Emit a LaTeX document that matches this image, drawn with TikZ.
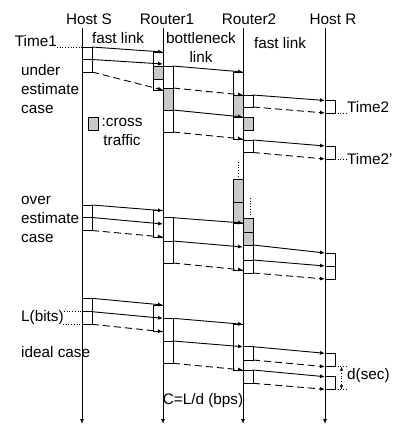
\documentclass[tikz,border=0pt]{standalone}
\usepackage{fontspec}
\setmainfont{Liberation Sans}
\usetikzlibrary{arrows.meta, positioning}
\newcommand{\pktR}[5][pkt]{\node[#1, anchor=north west, minimum height=#5pt-#4pt] (#2) at (#3,#4) {};}
\newcommand{\pktL}[5][pkt]{\node[#1, anchor=north east, minimum height=#5pt-#4pt] (#2) at (#3,#4) {};}

\begin{document}
\begin{tikzpicture}[x=1pt, y=-1pt,
    lbl/.style={font=\fontsize{15.3}{19}\selectfont, inner sep=0pt},
    life/.style={line width=0.9pt, -{Latex[length=5pt,width=4pt]}},
    pkt/.style={draw, line width=0.9pt, fill=white, inner sep=0pt, outer sep=0pt, minimum width=10pt},
    xtra/.style={pkt, fill=gray!42},
    sol/.style={line width=0.9pt, -{Latex[length=5pt,width=4pt]}},
    dsh/.style={sol, dash pattern=on 7pt off 4pt},
    dot/.style={line width=0.7pt, dotted}]
    \useasboundingbox (0,0) rectangle (392,425);

    % lifelines
    \foreach \n/\x/\t/\dx in {hs/82/Host S/7, ra/163/Router1/4, rb/243/Router2/6, hr/325/Host R/8} {
        \node[lbl] (\n) at (\x+\dx,19) {\t};
        \coordinate (\n T) at (\x,28);
        \coordinate (\n B) at (\x,424);
        \draw[life] (\n T) -- (\n B);
    }
    \node[lbl] (fl1) at (118,38) {fast link};
    \node[lbl, align=center] (bl) at (201,47.5) {bottleneck\\link};
    \node[lbl] (fl2) at (280,43) {fast link};

    % under estimate case
    \node[lbl, align=left, anchor=west] (ue) at (21,89) {under\\estimate\\case};
    \node[lbl, anchor=base east] (t1) at (57,47) {Time1};
    \pktR{sa1}{82}{47}{59.5}
    \pktR{sa2}{82}{59.5}{72}
    \pktL{raiA}{163}{52}{90}
    \pktL[xtra]{raxA}{163}{66.5}{79}
    \coordinate (aA2) at (163,64);
    \pktR{raA1}{163}{66}{88}
    \pktR[xtra]{raxoA}{163}{88}{110}
    \pktR{raA2}{163}{110}{132}
    \pktL{rbiA}{243}{72}{139}
    \pktL[xtra]{rbxA}{243}{95}{117}
    \pktR{rbA1}{243}{95}{107}
    \pktR[xtra]{rbxoA}{243}{117}{130}
    \pktR{rbA2}{243}{140}{152.5}
    \pktR{hrA1}{325}{100.5}{113}
    \pktR{hrA2}{325}{146}{159}
    \node[lbl, anchor=base west] (t2) at (347,113) {Time2};
    \node[lbl, anchor=west] (t2b) at (347,159) {Time2'};
    \draw[dot] (t1.base east) -- (sa1.north west);
    \draw[sol] (sa1.north east) -- (raiA.north east);
    \draw[sol] (sa2.north east) -- (aA2);
    \draw[dsh] (sa2.south east) -- (raiA.south east);
    \draw[sol] (raA1.north east) -- (rbiA.north east);
    \draw[dsh] (raA1.south east) -- (rbxA.north east);
    \draw[sol] (raA2.north east) -- (rbxA.south east);
    \draw[dsh] (raA2.south east) -- (rbiA.south east);
    \foreach \i in {1,2} {
        \draw[sol] (rbA\i.north east) -- (hrA\i.north west);
        \draw[dsh] (rbA\i.south east) -- (hrA\i.south west);
    }
    \draw[dot] (hrA1.south east) -- (t2.base west);
    \draw[dot] (hrA2.south east) -- (t2b.west);

    % legend
    \node[xtra, anchor=north west, minimum height=13pt] (leg) at (88,117) {};
    \node[lbl, align=center] (legt) at (122,131.5) {:cross\\traffic};

    % over estimate case
    \node[lbl, align=left, anchor=west] (oe) at (21,219) {over\\estimate\\case};
    \pktR{sb1}{82}{205}{217.5}
    \pktR{sb2}{82}{217.5}{230.5}
    \pktL{raiB}{163}{210.7}{237}
    \coordinate (bB2) at (163,224);
    \pktR{raB1}{163}{217.7}{241}
    \pktR{raB2}{163}{241}{263}
    \pktL[xtra]{rbxB1}{243}{179}{202}
    \pktL[xtra]{rbxB2}{243}{202}{223}
    \pktL{rbiB}{243}{223}{270}
    \coordinate (cB2) at (243,247);
    \pktR[xtra]{rbxoB1}{243}{218}{232}
    \pktR[xtra]{rbxoB2}{243}{232}{245}
    \pktR{rbB1}{243}{245}{260}
    \pktR{rbB2}{243}{260}{273}
    \pktR{hrB1}{325}{253}{266}
    \pktR{hrB2}{325}{266}{279}
    \coordinate (vB1) at (238,162);
    \coordinate (vB2) at (250.5,198);
    \draw[dot, shorten >=2pt] (vB1) -- (vB1 |- rbxB1.north);
    \draw[dot, shorten >=3pt] (vB2) -- (vB2 |- rbxoB1.north);
    \draw[sol] (sb1.north east) -- (raiB.north east);
    \draw[sol] (sb2.north east) -- (bB2);
    \draw[dsh] (sb2.south east) -- (raiB.south east);
    \draw[sol] (raB1.north east) -- (rbiB.north east);
    \draw[sol] (raB2.north east) -- (cB2);
    \draw[dsh] (raB2.south east) -- (rbiB.south east);
    \draw[sol] (rbB1.north east) -- (hrB1.north west);
    \draw[sol] (rbB2.north east) -- (hrB2.north west);
    \draw[dsh] (rbB2.south east) -- (hrB2.south west);

    % ideal case
    \node[lbl, anchor=west] (lb) at (21,317.5) {L(bits)};
    \node[lbl, anchor=west] (ic) at (21,352) {ideal case};
    \node[lbl] (cap) at (203,401) {C=L/d (bps)};
    \pktR{sc1}{82}{298.3}{311.7}
    \pktR{sc2}{82}{311.7}{324.3}
    \pktL{raiC}{163}{305}{331.7}
    \coordinate (bC2) at (163,318.3);
    \pktR{raC1}{163}{318.3}{341}
    \pktR{raC2}{163}{341}{363.3}
    \pktL{rbiC}{243}{324.3}{370}
    \coordinate (cC2) at (243,346.7);
    \pktR{rbC1}{243}{346.7}{360}
    \pktR{rbC2}{243}{370}{383.3}
    \pktR{hrC1}{325}{353.3}{366.7}
    \pktR{hrC2}{325}{376.7}{389.3}
    \coordinate (lb1) at (64,311.7);
    \coordinate (lb2) at (63,324.3);
    \draw[dot] (lb1) -- (sc2.north west);
    \draw[dot] (lb2) -- (sc2.south west);
    \draw[sol] (sc1.north east) -- (raiC.north east);
    \draw[sol] (sc2.north east) -- (bC2);
    \draw[dsh] (sc2.south east) -- (raiC.south east);
    \draw[sol] (raC1.north east) -- (rbiC.north east);
    \draw[sol] (raC2.north east) -- (cC2);
    \draw[dsh] (raC2.south east) -- (rbiC.south east);
    \foreach \i in {1,2} {
        \draw[sol] (rbC\i.north east) -- (hrC\i.north west);
        \draw[dsh] (rbC\i.south east) -- (hrC\i.south west);
    }
    \coordinate (dA) at (347,366.7);
    \coordinate (dB) at (347,389.3);
    \coordinate (d1) at (341.5,366.7);
    \coordinate (d2) at (341.5,389.3);
    \draw[dot] (hrC1.south east) -- (dA);
    \draw[dot] (hrC2.south east) -- (dB);
    \draw[dot, {Latex[length=4pt,width=3.5pt]}-{Latex[length=4pt,width=3.5pt]}] (d1) -- (d2);
    \node[lbl, anchor=west] (dsec) at (347,376) {d(sec)};
\end{tikzpicture}
\end{document}
